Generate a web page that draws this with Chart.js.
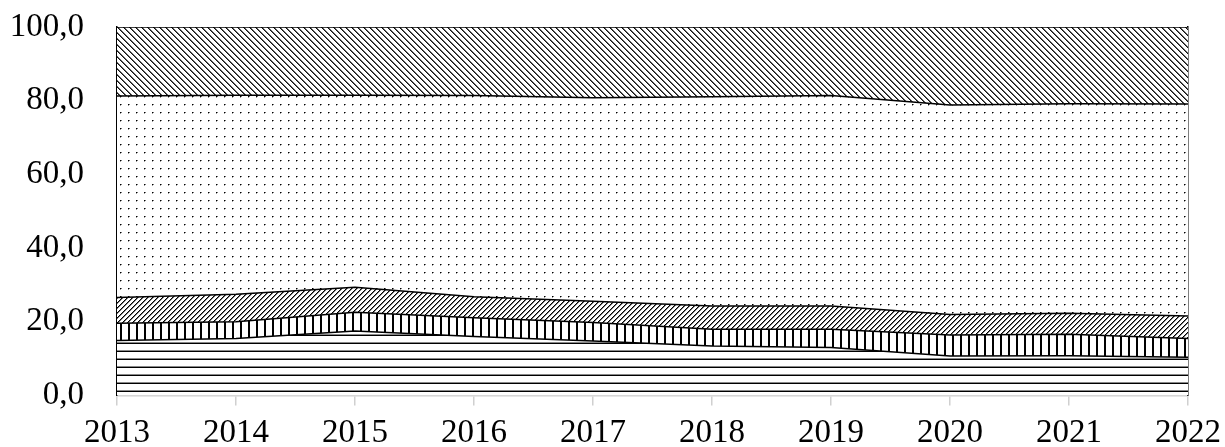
<!DOCTYPE html>
<html>
<head>
<meta charset="utf-8">
<script src="https://cdn.jsdelivr.net/npm/chart.js@4/dist/chart.umd.min.js"></script>
<style>
  html, body { margin: 0; padding: 0; background: #fff; }
  #wrap { width: 1225px; height: 447px; }
</style>
</head>
<body>
<div id="wrap"><canvas id="c"></canvas></div>
<script>
// category axis
const years = ['2013', '2014', '2015', '2016', '2017', '2018', '2019', '2020', '2021', '2022'];

// stacked shares, bottom to top (%)
const seriesA = [14.9, 15.5, 17.5, 16.0, 14.8, 13.4, 13.0, 10.7, 10.8, 10.4];
const seriesB = [4.7, 4.5, 5.1, 5.1, 5.0, 4.6, 5.0, 5.7, 5.8, 5.1];
const seriesC = [7.0, 7.5, 6.8, 5.7, 5.8, 6.3, 6.3, 5.6, 5.7, 6.1];
const seriesD = [54.7, 54.0, 52.1, 54.6, 55.2, 56.8, 57.1, 56.8, 56.9, 57.5];
const seriesE = [18.7, 18.5, 18.5, 18.6, 19.2, 18.9, 18.6, 21.2, 20.8, 20.9];

const yTicks = [0, 20, 40, 60, 80, 100];
const yTickLabels = ['0,0', '20,0', '40,0', '60,0', '80,0', '100,0'];

const canvas = document.getElementById('c');
const ctx = canvas.getContext('2d');

// small tile -> repeating fill pattern
function tile(w, h, draw) {
  const t = document.createElement('canvas');
  t.width = w; t.height = h;
  const g = t.getContext('2d');
  g.fillStyle = '#fff';
  g.fillRect(0, 0, w, h);
  draw(g);
  return ctx.createPattern(t, 'repeat');
}

const patHoriz = tile(8, 8, g => {
  g.fillStyle = '#000'; g.fillRect(0, 7, 8, 1);
  g.fillStyle = '#888'; g.fillRect(0, 6, 8, 1);
});
const patVert = tile(8, 8, g => { g.fillStyle = '#000'; g.fillRect(0, 0, 2, 8); });
const patFwd = tile(5, 5, g => {
  for (let i = 0; i < 5; i++) {
    g.fillStyle = '#000'; g.fillRect(4 - i, i, 1, 1);
    g.fillStyle = '#777'; g.fillRect((5 - i) % 5, i, 1, 1);
  }
});
const patDots = tile(8, 8, g => {
  g.fillStyle = '#000'; g.fillRect(0, 0, 1, 1);
  g.fillStyle = '#777'; g.fillRect(1, 0, 1, 1);
  g.fillStyle = '#999'; g.fillRect(0, 1, 1, 1);
});
const patBack = tile(6, 6, g => {
  for (let i = 0; i < 6; i++) {
    g.fillStyle = '#111'; g.fillRect(i, i, 1, 1);
    g.fillStyle = '#666'; g.fillRect((i + 1) % 6, i, 1, 1);
  }
});

const area = (data, fill, bg) => ({
  data,
  fill,
  backgroundColor: bg,
  borderColor: '#000',
  borderWidth: 1.5,
  pointRadius: 0,
  tension: 0
});

new Chart(canvas, {
  type: 'line',
  data: {
    labels: years,
    datasets: [
      area(seriesA, 'origin', patHoriz),
      area(seriesB, '-1', patVert),
      area(seriesC, '-1', patFwd),
      area(seriesD, '-1', patDots),
      area(seriesE, '-1', patBack)
    ]
  },
  options: {
    responsive: true,
    maintainAspectRatio: false,
    animation: false,
    layout: { padding: { top: 27, right: 37, bottom: 0, left: 0 } },
    plugins: { legend: { display: false }, tooltip: { enabled: false } },
    scales: {
      x: {
        offset: false,
        z: 1,
        afterFit: s => { s.height = 51.5; s.paddingLeft = 0; s.paddingRight = 0; },
        grid: { drawOnChartArea: false, drawTicks: true, tickLength: 10, color: '#d0d0d0', lineWidth: 1.5 },
        border: { display: true, color: '#d0d0d0', width: 1.5 },
        ticks: {
          color: '#000',
          padding: 8,
          maxRotation: 0,
          autoSkip: false,
          font: { family: 'Liberation Serif', size: 33 }
        }
      },
      y: {
        stacked: true,
        min: 0,
        max: 100,
        z: 1,
        afterBuildTicks: s => { s.ticks = yTicks.map(v => ({ value: v })); },
        afterFit: s => { s.width = 117; s.paddingTop = 0; s.paddingBottom = 0; },
        grid: { display: false, drawTicks: false },
        border: { display: true, color: '#000', width: 1.5 },
        ticks: {
          color: '#000',
          padding: 33,
          font: { family: 'Liberation Serif', size: 33 },
          callback: v => yTickLabels[yTicks.indexOf(v)]
        }
      },
      y2: {
        position: 'right',
        min: 0,
        max: 100,
        z: 1,
        afterFit: s => { s.width = 0; s.paddingTop = 0; s.paddingBottom = 0; },
        grid: { display: false, drawTicks: false },
        border: { display: true, color: '#000', width: 1.5 },
        ticks: { display: false }
      }
    }
  }
});
</script>
</body>
</html>
